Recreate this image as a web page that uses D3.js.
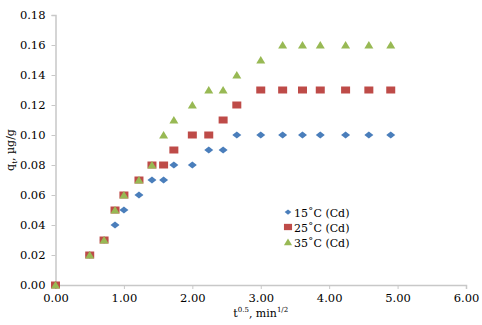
<!DOCTYPE html>
<html>
<head>
<meta charset="utf-8">
<script src="https://cdn.jsdelivr.net/npm/d3@7"></script>
<style>
  body { margin: 0; background: #fff; }
</style>
</head>
<body>
<svg id="chart"></svg>
<script>
// sqrt(t), min^1/2
const xVals = [0, 0.5, 0.71, 0.87, 1.0, 1.22, 1.41, 1.58, 1.73, 2.0, 2.24, 2.45, 2.65, 3.0, 3.32, 3.61, 3.87, 4.24, 4.58, 4.9];
const q15 = [0, 0.02, 0.03, 0.04, 0.05, 0.06, 0.07, 0.07, 0.08, 0.08, 0.09, 0.09, 0.10, 0.10, 0.10, 0.10, 0.10, 0.10, 0.10, 0.10];
const q25 = [0, 0.02, 0.03, 0.05, 0.06, 0.07, 0.08, 0.08, 0.09, 0.10, 0.10, 0.11, 0.12, 0.13, 0.13, 0.13, 0.13, 0.13, 0.13, 0.13];
const q35 = [0, 0.02, 0.03, 0.05, 0.06, 0.07, 0.08, 0.10, 0.11, 0.12, 0.13, 0.13, 0.14, 0.15, 0.16, 0.16, 0.16, 0.16, 0.16, 0.16];
const seriesNames = ['15˚C (Cd)', '25˚C (Cd)', '35˚C (Cd)'];
const xTicks = [0, 1, 2, 3, 4, 5, 6];
const yTicks = [0, 0.02, 0.04, 0.06, 0.08, 0.10, 0.12, 0.14, 0.16, 0.18];

const W = 482, H = 325;
const margin = { top: 15, right: 16, bottom: 40, left: 55.5 };
const colors = ['#4a7ebb', '#be4b48', '#98b954'];
const axisColor = '#c8c8c8';
// Liberation Serif isn't picked up here, DejaVu Serif is
const serif = 'DejaVu Serif';

const svg = d3.select('#chart').attr('width', W).attr('height', H);

const x = d3.scaleLinear().domain([0, 6]).range([margin.left, W - margin.right]);
const y = d3.scaleLinear().domain([0, 0.18]).range([H - margin.bottom, margin.top]);

const yAxis = svg.append('g')
  .attr('transform', `translate(${margin.left},0)`)
  .call(d3.axisLeft(y).tickValues(yTicks).tickFormat(d3.format('.2f')).tickSize(4).tickPadding(6));
const xAxis = svg.append('g')
  .attr('transform', `translate(0,${H - margin.bottom})`)
  .call(d3.axisBottom(x).tickValues(xTicks).tickFormat(d3.format('.2f')).tickSize(4).tickPadding(5));

[xAxis, yAxis].forEach((g) => {
  g.attr('font-family', serif).attr('font-size', 11.5);
  g.select('.domain').attr('stroke', axisColor).attr('stroke-width', 1.5);
  g.selectAll('.tick line').attr('stroke', axisColor);
  g.selectAll('.tick text').attr('fill', '#000');
});

// marker shapes, about 9x7 px
const shapes = [
  'M-4.5,0L0,-3.5L4.5,0L0,3.5Z',
  'M-4.5,-3.5H4.5V3.5H-4.5Z',
  'M-4.5,3.5L0,-4L4.5,3.5Z',
];
const series = [q15, q25, q35];

series.forEach((vals, si) => {
  svg.append('g').selectAll('path')
    .data(vals.map((v, i) => [xVals[i], v]))
    .enter()
    .append('path')
    .attr('d', shapes[si])
    .attr('transform', (d) => `translate(${x(d[0])},${y(d[1])})`)
    .attr('fill', colors[si]);
});

// legend
const legend = svg.append('g').attr('transform', 'translate(288,212)');
seriesNames.forEach((name, i) => {
  const row = legend.append('g').attr('transform', `translate(0,${i * 15})`);
  row.append('path')
    .attr('d', shapes[i])
    .attr('transform', i === 0 ? 'scale(0.75)' : 'scale(0.9)')
    .attr('fill', colors[i]);
  row.append('text')
    .attr('x', 6)
    .attr('y', 4.5)
    .attr('font-family', serif)
    .attr('font-size', 11)
    .text(name);
});

// axis titles
const xt = svg.append('text')
  .attr('x', x(3))
  .attr('y', 317)
  .attr('text-anchor', 'middle')
  .attr('font-family', serif)
  .attr('font-size', 11);
xt.append('tspan').text('t');
xt.append('tspan').attr('dy', -5).attr('font-size', 7).text('0.5');
xt.append('tspan').attr('dy', 5).text(', min');
xt.append('tspan').attr('dy', -5).attr('font-size', 7).text('1/2');

const yt = svg.append('text')
  .attr('transform', `translate(14,${y(0.09)}) rotate(-90)`)
  .attr('text-anchor', 'middle')
  .attr('font-family', serif)
  .attr('font-size', 11);
yt.append('tspan').text('q');
yt.append('tspan').attr('dy', 3).attr('font-size', 7).text('t');
yt.append('tspan').attr('dy', -3).text(', µg/g');
</script>
</body>
</html>
